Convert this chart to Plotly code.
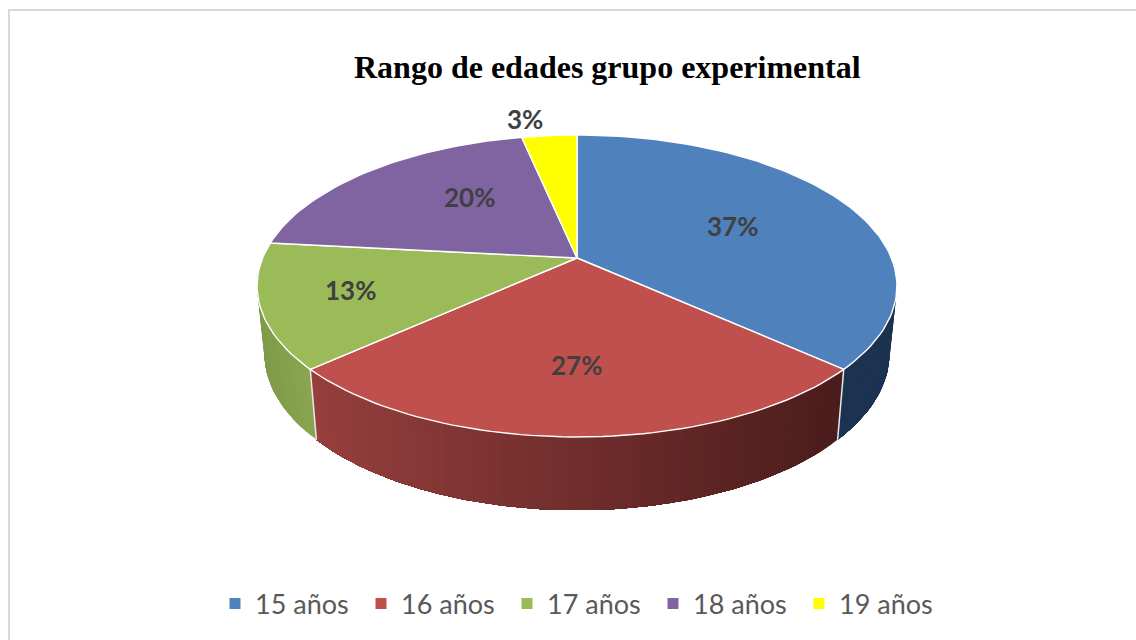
import math
import plotly.graph_objects as go

# Data
categories = ["15 años", "16 años", "17 años", "18 años", "19 años"]
counts = [11, 8, 4, 6, 1]
title_text = "Rango de edades grupo experimental"

# Styles
top_colors = ["#4f81bd", "#c0504d", "#9bbb59", "#8064a2", "#ffff00"]
side_left = ["#1b3350", "#963f3d", "#7f9a48", "#4c3b62", "#999900"]
side_right = ["#1b3350", "#4a1c1b", "#8aa650", "#4c3b62", "#999900"]
label_xy = [(732, 226), (576, 365), (350, 290), (469, 197), (525, 119)]

# Perspective model of the disc (pixel space of the 1136x640 page)
CX, CY = 577.0, 258.0
PERSP, AY, CXS = 0.1854, 145.8, 314.4
DROP, KX, KY = 66.0, 0.977, 1.04
MIN_T = 0.1


def rim(theta, bottom=False):
    s, t = math.sin(theta), -math.cos(theta)
    d = 1 - PERSP * t
    if bottom:
        return CX + KX * CXS * s / d, CY + DROP + KY * AY * t / d
    return CX + CXS * s / d, CY + AY * t / d


def lerp_hex(a, b, f):
    ca = [int(a[i:i + 2], 16) for i in (1, 3, 5)]
    cb = [int(b[i:i + 2], 16) for i in (1, 3, 5)]
    return "rgb(%d,%d,%d)" % tuple(round(x + (y - x) * f) for x, y in zip(ca, cb))


total = sum(counts)
bounds = [0.0]
for c in counts:
    bounds.append(bounds[-1] + c / total * 2 * math.pi)

fig = go.Figure()

# Side wall, drawn only where it faces the viewer. Every band runs on to the
# end of the visible wall so the next band paints over it, leaving no seams.
for i, name in enumerate(categories):
    a0, a1 = bounds[i], bounds[i + 1]
    steps = max(2, int((a1 - a0) / math.radians(1.5)))
    angles = [a0 + (a1 - a0) * k / steps for k in range(steps + 1)]
    angles = [u for u in angles if -math.cos(u) >= MIN_T]
    if len(angles) < 2:
        continue
    xb = [rim(u, True)[0] for u in angles]
    lo, hi = min(xb), max(xb)
    for k in range(len(angles) - 1):
        part = angles[k:]
        top = [rim(u) for u in part]
        bot = [rim(u, True) for u in reversed(part)]
        pts = top + bot + top[:1]
        mid = (xb[k] + xb[k + 1]) / 2
        col = lerp_hex(side_left[i], side_right[i], (mid - lo) / (hi - lo))
        fig.add_trace(go.Scatter(x=[p[0] for p in pts], y=[p[1] for p in pts],
                                 mode="lines", fill="toself", fillcolor=col,
                                 line=dict(color=col, width=0),
                                 hoverinfo="skip", showlegend=False))

# White separators on the wall at slice edges
for u in bounds[:-1]:
    if -math.cos(u) > MIN_T:
        x0, y0 = rim(u)
        x1, y1 = rim(u, True)
        fig.add_trace(go.Scatter(x=[x0, x1], y=[y0, y1], mode="lines",
                                 line=dict(color="#e8e8e8", width=1.5),
                                 hoverinfo="skip", showlegend=False))

# Top face
for i, name in enumerate(categories):
    a0, a1 = bounds[i], bounds[i + 1]
    steps = max(4, int((a1 - a0) / math.radians(1.5)))
    pts = [rim(a0 + (a1 - a0) * k / steps) for k in range(steps + 1)]
    xs = [CX] + [p[0] for p in pts] + [CX]
    ys = [CY] + [p[1] for p in pts] + [CY]
    fig.add_trace(go.Scatter(x=xs, y=ys, mode="lines", fill="toself",
                             fillcolor=top_colors[i],
                             line=dict(color="white", width=1.4),
                             name=name, hoverinfo="name", showlegend=False))

# Legend entries
for i, name in enumerate(categories):
    fig.add_trace(go.Scatter(x=[None], y=[None], mode="markers", name=name,
                             marker=dict(symbol="square", size=11, color=top_colors[i])))

# Percentage labels
for i, c in enumerate(counts):
    fig.add_annotation(x=label_xy[i][0], y=label_xy[i][1], text="<b>%d%%</b>" % round(100 * c / total),
                       showarrow=False, font=dict(family="Lato", size=26, color="#404040"))

fig.add_annotation(x=607.5, y=67, text="<b>%s</b>" % title_text, showarrow=False,
                   font=dict(family="Liberation Serif", size=32, color="black"))

fig.add_shape(type="rect", x0=9, y0=10, x1=1170, y1=670, layer="below",
              line=dict(color="#d9d9d9", width=2), fillcolor="white")

fig.update_layout(
    width=1136, height=640, autosize=False,
    margin=dict(l=0, r=0, t=0, b=0, autoexpand=False),
    paper_bgcolor="white", plot_bgcolor="white",
    xaxis=dict(range=[0, 1136], visible=False, fixedrange=True),
    yaxis=dict(range=[640, 0], visible=False, fixedrange=True),
    legend=dict(orientation="h", x=215 / 1136, xanchor="left", y=(640 - 604) / 640, yanchor="middle",
                entrywidth=101, entrywidthmode="pixels", bgcolor="rgba(0,0,0,0)",
                font=dict(family="Lato", size=27, color="#595959"), itemclick=False, itemdoubleclick=False),
)

fig.write_html("out.html", config=dict(displayModeBar=False),
               post_script="document.body.style.margin='0';document.documentElement.style.overflow='hidden';")
